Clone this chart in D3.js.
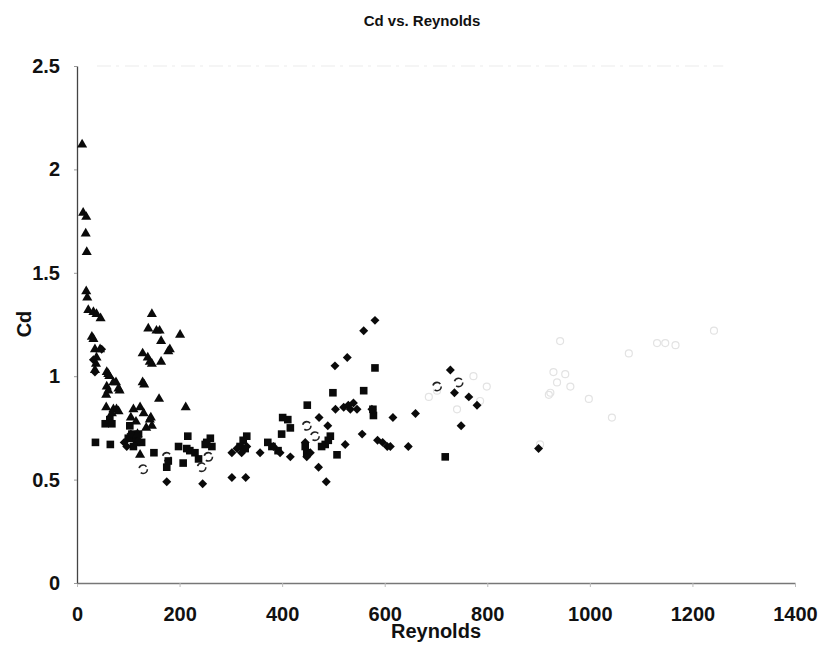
<!DOCTYPE html>
<html>
<head>
<meta charset="utf-8">
<script src="https://cdn.jsdelivr.net/npm/d3@7"></script>
<style>
  html, body { margin: 0; padding: 0; background: #fff; }
  svg { display: block; }
  text { font-family: "Liberation Sans", Arial, Helvetica, sans-serif; font-weight: bold; fill: #111; }
</style>
</head>
<body>
<svg id="chart" width="823" height="655"></svg>
<script>
// Drag coefficient (Cd) against Reynolds number, four measurement sets
const triangleSet = [
  [10,2.12],[12,1.79],[18,1.77],[17,1.69],[19,1.60],[18,1.41],[20,1.38],[22,1.32],[32,1.31],[38,1.30],[46,1.28],
  [146,1.30],[139,1.23],[155,1.22],[161,1.22],[201,1.20],[164,1.17],[181,1.13],[178,1.12],[29,1.19],[32,1.18],
  [128,1.11],[138,1.09],[142,1.07],[146,1.06],[164,1.07],
  [35,1.13],[45,1.13],[38,1.09],[37,1.06],[35,1.03],
  [58,1.02],[61,1.01],[58,0.95],[76,0.97],[81,0.94],[61,0.93],[57,0.91],[63,1.00],[71,0.97],[83,0.93],
  [128,0.97],[131,0.96],[160,0.89],[212,0.85],
  [57,0.85],[71,0.84],[77,0.84],[110,0.84],[123,0.85],[144,0.80],[81,0.83],[68,0.82],[142,0.79],[146,0.76],[123,0.62],
  [105,0.80],[115,0.78],[130,0.82],[135,0.75],[118,0.72]
];
const squareSet = [
  [55,0.77],[64,0.79],[68,0.77],[36,0.68],[65,0.67],[103,0.76],[107,0.72],[113,0.70],[100,0.70],[116,0.68],
  [110,0.66],[126,0.68],[120,0.72],[150,0.63],[175,0.56],[178,0.59],[198,0.66],[207,0.58],[216,0.71],[214,0.65],
  [220,0.64],[230,0.63],[237,0.60],[250,0.67],[260,0.70],[253,0.68],[263,0.66],
  [581,1.04],[559,0.93],[499,0.92],[449,0.86],[401,0.80],[411,0.79],[416,0.75],[399,0.72],[494,0.71],[490,0.69],
  [484,0.67],[477,0.66],[578,0.81],[331,0.71],[324,0.69],[318,0.66],[328,0.65],[372,0.68],[380,0.66],[392,0.64],
  [507,0.62],[718,0.61],[577,0.84],[448,0.63],[445,0.66]
];
const diamondSet = [
  [48,1.13],[32,1.08],[35,1.02],[92,0.68],[97,0.66],[105,0.72],[120,0.69],[175,0.49],[245,0.48],[302,0.51],[302,0.63],
  [581,1.27],[559,1.22],[527,1.09],[503,1.05],[472,0.80],[489,0.76],[616,0.80],[556,0.72],[586,0.69],[596,0.68],
  [605,0.66],[611,0.66],[523,0.67],[416,0.61],[471,0.56],[486,0.49],[329,0.51],[357,0.63],[383,0.66],[396,0.63],
  [504,0.84],[520,0.85],[529,0.86],[533,0.84],[546,0.84],[575,0.84],[539,0.87],[448,0.61],[455,0.63],[445,0.68],
  [312,0.65],[321,0.63],[331,0.66],
  [728,1.03],[736,0.92],[764,0.90],[780,0.86],[749,0.76],[660,0.82],[646,0.66],[900,0.65]
];
const circleSet = [
  [175,0.61],[256,0.61],[243,0.56],[129,0.55],[448,0.76],[464,0.71],[702,0.95],[744,0.97]
];
const faintSet = [
  [942,1.17],[1131,1.16],[1147,1.16],[1167,1.15],[1242,1.22],[1076,1.11],[929,1.02],[952,1.01],[962,0.95],
  [920,0.91],[998,0.89],[1043,0.80],[903,0.67],[686,0.90],[702,0.93],[773,1.00],[799,0.95],[786,0.88],
  [741,0.84],[936,0.97],[923,0.92]
];
const xTicks = [0, 200, 400, 600, 800, 1000, 1200, 1400];
const yTicks = [0, 0.5, 1, 1.5, 2, 2.5];
const chartTitle = "Cd vs. Reynolds";
const xTitle = "Reynolds";
const yTitle = "Cd";

const svg = d3.select("#chart");
const x = d3.scaleLinear().domain([0, 1400]).range([77, 795]);
const y = d3.scaleLinear().domain([0, 2.5]).range([583, 66]);

// faint top boundary of the plot area
svg.append("line")
  .attr("x1", x(0) + 20).attr("x2", x(1260))
  .attr("y1", y(2.5)).attr("y2", y(2.5))
  .attr("stroke", "#ececec").attr("stroke-width", 1.2)
  .attr("stroke-dasharray", "14,5,3,6");

// x axis
const xAxis = svg.append("g")
  .attr("transform", `translate(0,${y(0)})`)
  .call(d3.axisBottom(x).tickValues(xTicks).tickFormat(d3.format("d"))
    .tickSizeInner(4).tickSizeOuter(0).tickPadding(20));
xAxis.select(".domain").attr("stroke", "#777").attr("stroke-width", 1.5);
xAxis.selectAll(".tick line").attr("stroke", "#bbb");
xAxis.selectAll(".tick text").attr("font-size", 20).attr("fill", "#111");

// y axis
const yAxis = svg.append("g")
  .attr("transform", `translate(${x(0)},0)`)
  .call(d3.axisLeft(y).tickValues(yTicks).tickFormat(d => d3.format("")(d))
    .tickSizeInner(3).tickSizeOuter(0).tickPadding(14));
yAxis.select(".domain").attr("stroke", "#444").attr("stroke-width", 1.3);
yAxis.selectAll(".tick line").attr("stroke", "#999");
yAxis.selectAll(".tick text").attr("font-size", 20).attr("fill", "#111");

// titles
svg.append("text").attr("x", 422).attr("y", 26).attr("text-anchor", "middle")
  .attr("font-size", 15).text(chartTitle);
svg.append("text").attr("x", 436).attr("y", 638).attr("text-anchor", "middle")
  .attr("font-size", 20).text(xTitle);
svg.append("text").attr("transform", "translate(31,324) rotate(-90)")
  .attr("text-anchor", "middle").attr("font-size", 20).text(yTitle);

const plot = svg.append("g");

// faint open circles
plot.selectAll("circle.faint").data(faintSet).join("circle")
  .attr("class", "faint")
  .attr("cx", d => x(d[0])).attr("cy", d => y(d[1])).attr("r", 3.5)
  .attr("fill", "none").attr("stroke", "#e3e3e3").attr("stroke-width", 1.2);

// open circles
plot.selectAll("circle.open").data(circleSet).join("circle")
  .attr("class", "open")
  .attr("cx", d => x(d[0])).attr("cy", d => y(d[1])).attr("r", 4.2)
  .attr("fill", "#fff").attr("stroke", "#222").attr("stroke-width", 1.6)
  .attr("stroke-dasharray", "9,5");

// squares
plot.selectAll("path.sq").data(squareSet).join("path")
  .attr("class", "sq")
  .attr("transform", d => `translate(${x(d[0])},${y(d[1])})`)
  .attr("d", d3.symbol().type(d3.symbolSquare).size(58)).attr("fill", "#0a0a0a");

// diamonds
plot.selectAll("path.dm").data(diamondSet).join("path")
  .attr("class", "dm")
  .attr("transform", d => `translate(${x(d[0])},${y(d[1])}) rotate(45)`)
  .attr("d", d3.symbol().type(d3.symbolSquare).size(40)).attr("fill", "#0a0a0a");

// triangles
plot.selectAll("path.tr").data(triangleSet).join("path")
  .attr("class", "tr")
  .attr("transform", d => `translate(${x(d[0])},${y(d[1])})`)
  .attr("d", d3.symbol().type(d3.symbolTriangle).size(44)).attr("fill", "#0a0a0a");
</script>
</body>
</html>
